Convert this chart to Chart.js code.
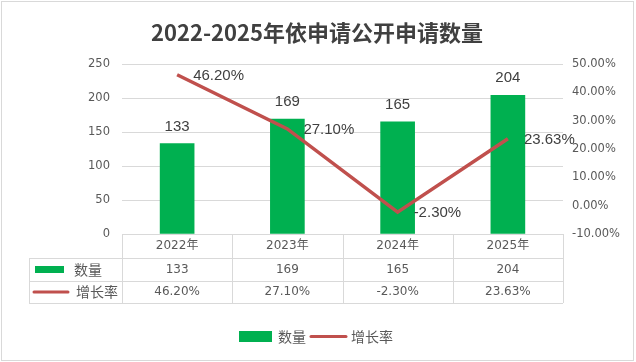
<!DOCTYPE html>
<html>
<head>
<meta charset="utf-8">
<script src="https://cdn.jsdelivr.net/npm/chart.js@4/dist/chart.umd.min.js"></script>
<style>
  body { margin: 0; background: #fff; }
  #wrap { width: 636px; height: 362px; position: relative; }
</style>
</head>
<body>
<div id="wrap"><canvas id="charts" width="636" height="362"></canvas></div>
<script>
// data
var years = ['2022年', '2023年', '2024年', '2025年'];
var counts = [133, 169, 165, 204];
var growth = [46.20, 27.10, -2.30, 23.63];
var countTicks = [0, 50, 100, 150, 200, 250];
var growthTicks = [-10, 0, 10, 20, 30, 40, 50];
var seriesNames = ['数量', '增长率'];
var chartTitle = '2022-2025年依申请公开申请数量';

var green = '#00B050';
var red = '#C0504D';
var gridColor = '#d9d9d9';
var textColor = '#595959';
var cjk = '"Noto Sans CJK SC", sans-serif';
var num = '"DejaVu Sans", "Noto Sans CJK SC", sans-serif';

// title, data labels, data table, legend and outer border
var extras = {
  id: 'extras',
  afterDatasetsDraw: function(chart) {
    var ctx = chart.ctx;
    var area = chart.chartArea;
    var x = chart.scales.x;
    ctx.save();

    // title
    ctx.fillStyle = '#404040';
    ctx.font = 'bold 22px ' + cjk;
    ctx.textAlign = 'center';
    ctx.textBaseline = 'middle';
    ctx.fillText(chartTitle, 317, 33);

    // labels on bars
    ctx.font = '15px "Liberation Sans", sans-serif';
    ctx.fillStyle = '#404040';
    ctx.textBaseline = 'alphabetic';
    chart.getDatasetMeta(1).data.forEach(function(bar, i) {
      ctx.textAlign = 'center';
      ctx.fillText(String(counts[i]), bar.x, bar.y - 13);
    });
    // labels on line points
    chart.getDatasetMeta(0).data.forEach(function(pt, i) {
      ctx.textAlign = 'left';
      ctx.textBaseline = 'middle';
      ctx.fillText(growth[i].toFixed(2) + '%', pt.x + 16, pt.y + 1);
    });

    // data table
    var colW = (area.right - area.left) / years.length;
    var rows = [area.bottom, 258, 281, 303];
    var keyLeft = 29;
    ctx.strokeStyle = gridColor;
    ctx.lineWidth = 1;
    ctx.beginPath();
    for (var r = 0; r < rows.length; r++) {
      var y = Math.round(rows[r]) + 0.5;
      ctx.moveTo(r === 0 ? area.left : keyLeft, y);
      ctx.lineTo(area.right, y);
    }
    for (var c = 0; c <= years.length; c++) {
      var vx = Math.round(area.left + c * colW) + 0.5;
      ctx.moveTo(vx, rows[0]);
      ctx.lineTo(vx, rows[3]);
    }
    ctx.moveTo(keyLeft + 0.5, rows[1]);
    ctx.lineTo(keyLeft + 0.5, rows[3]);
    ctx.stroke();

    ctx.fillStyle = textColor;
    ctx.textAlign = 'center';
    ctx.textBaseline = 'middle';
    ctx.font = '12px ' + num;
    years.forEach(function(yr, i) {
      var cx = x.getPixelForValue(i);
      ctx.fillText(yr, cx, (rows[0] + rows[1]) / 2);
      ctx.fillText(String(counts[i]), cx, (rows[1] + rows[2]) / 2);
      ctx.fillText(growth[i].toFixed(2) + '%', cx, (rows[2] + rows[3]) / 2);
    });

    // table keys
    ctx.fillStyle = green;
    ctx.fillRect(35, 266, 29, 7);
    ctx.strokeStyle = red;
    ctx.lineWidth = 3;
    ctx.lineCap = 'round';
    ctx.beginPath();
    ctx.moveTo(34, 292);
    ctx.lineTo(68, 292);
    ctx.stroke();
    ctx.fillStyle = textColor;
    ctx.font = '14px ' + cjk;
    ctx.textAlign = 'left';
    ctx.fillText(seriesNames[0], 74, 269.5);
    ctx.fillText(seriesNames[1], 76, 292);

    // bottom legend
    ctx.fillStyle = green;
    ctx.fillRect(239, 331, 33, 11);
    ctx.beginPath();
    ctx.moveTo(311, 336.5);
    ctx.lineTo(346, 336.5);
    ctx.stroke();
    ctx.fillStyle = textColor;
    ctx.fillText(seriesNames[0], 278, 336.5);
    ctx.fillText(seriesNames[1], 351, 336.5);

    // outer border
    ctx.strokeStyle = gridColor;
    ctx.lineWidth = 1;
    ctx.strokeRect(1.5, 1.5, 632, 359);
    ctx.restore();
  }
};

new Chart(document.getElementById('charts'), {
  type: 'bar',
  data: {
    labels: years,
    datasets: [{
      type: 'line',
      label: seriesNames[1],
      data: growth,
      yAxisID: 'y1',
      borderColor: red,
      backgroundColor: red,
      borderWidth: 3.5,
      pointRadius: 0,
      tension: 0,
      order: 1
    }, {
      type: 'bar',
      label: seriesNames[0],
      data: counts,
      yAxisID: 'y',
      backgroundColor: green,
      barThickness: 34,
      order: 2
    }]
  },
  options: {
    responsive: false,
    animation: false,
    layout: { padding: { top: 64, bottom: 128, left: 0, right: 0 } },
    plugins: {
      legend: { display: false },
      tooltip: { enabled: false },
      title: { display: false }
    },
    scales: {
      x: { display: false, offset: true },
      y: {
        position: 'left',
        min: countTicks[0],
        max: countTicks[countTicks.length - 1],
        afterFit: function(scale) { scale.width = 122; },
        afterBuildTicks: function(scale) {
          scale.ticks = countTicks.map(function(v) { return { value: v }; });
        },
        border: { display: false },
        grid: { color: gridColor, drawTicks: false },
        ticks: {
          padding: 12,
          color: textColor,
          font: { family: num, size: 11.5 }
        }
      },
      y1: {
        position: 'right',
        min: growthTicks[0],
        max: growthTicks[growthTicks.length - 1],
        afterFit: function(scale) { scale.width = 73; },
        afterBuildTicks: function(scale) {
          scale.ticks = growthTicks.map(function(v) { return { value: v }; });
        },
        border: { display: false },
        grid: { display: false, drawTicks: false },
        ticks: {
          padding: 9,
          color: textColor,
          font: { family: num, size: 11.5 },
          callback: function(v) { return v.toFixed(2) + '%'; }
        }
      }
    }
  },
  plugins: [extras]
});
</script>
</body>
</html>
